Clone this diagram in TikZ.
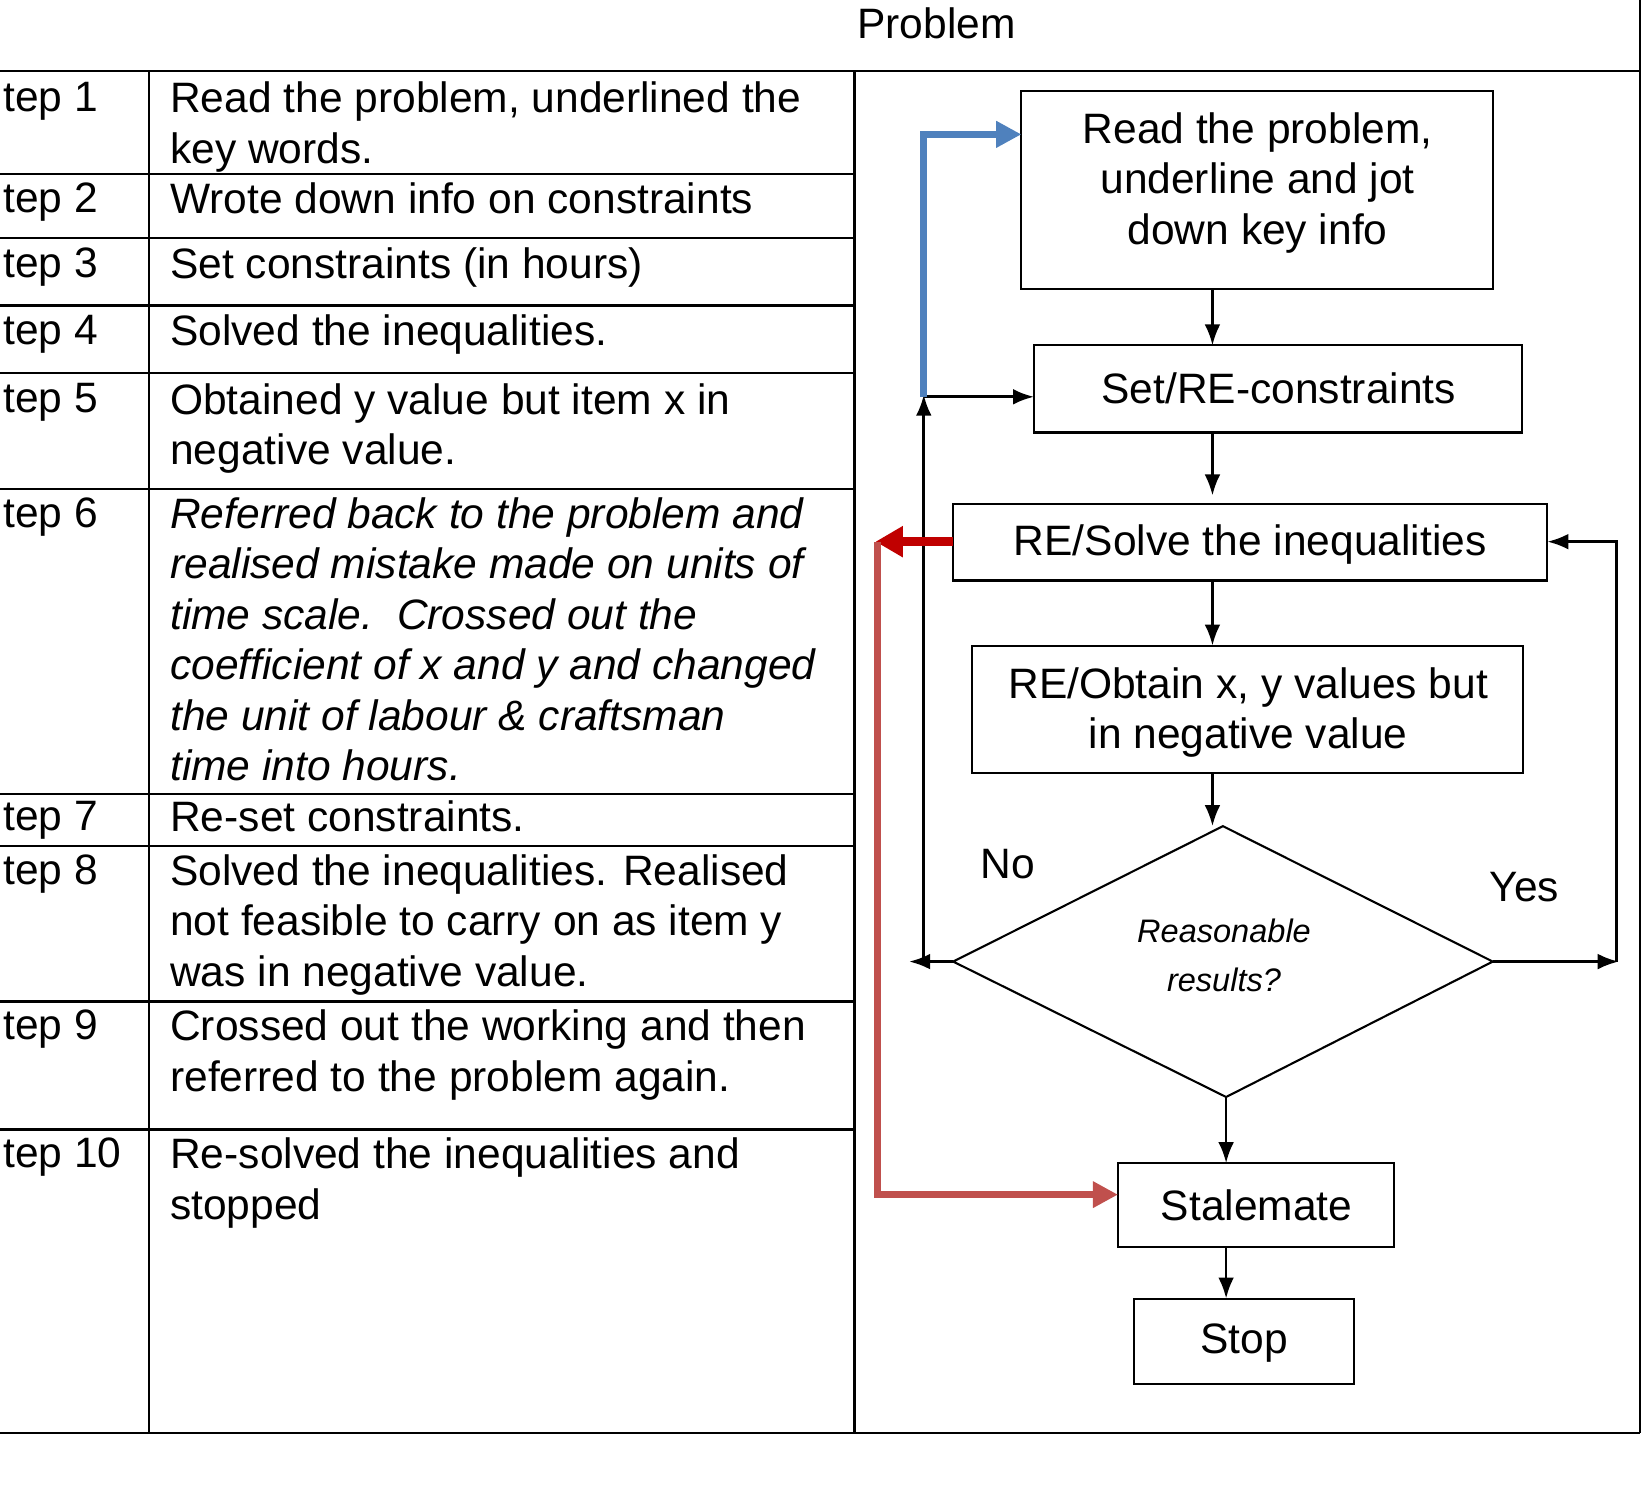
\documentclass[tikz,border=0pt]{standalone}
\usepackage{fontspec}
\setmainfont{Liberation Sans}
\usetikzlibrary{arrows.meta}
\begin{document}
\begin{tikzpicture}[x=1pt,y=-1pt,
  every node/.style={font=\fontsize{40.5}{48}\selectfont, inner sep=0pt},
  cell/.style={anchor=north west, align=left},
  box/.style={draw, line width=2pt},
  ar/.style={-{Latex[length=20pt,width=15pt]}, line width=2.6pt},
  tl/.style={line width=2pt}]
\useasboundingbox (0,0) rectangle (1568,1421);
% table
\draw[tl] (0,68) -- (1562,68);
\draw[tl] (1562,0) -- (1562,1365);
\draw[tl] (0,1365) -- (1562,1365);
\draw[tl] (142,68) -- (142,1365);
\draw[tl] (814,68) -- (814,1365);
\foreach \y in {166,227,291,355,466,756,806,954,1076} \draw[tl] (0,\y) -- (814,\y);
\node (prob) at (892,22) {Problem};
\foreach \t/\y in {1/78,2/174,3/236,4/300,5/365,6/474,7/763,8/814,9/962,10/1084}
  \node[cell] (s\t) at (3,\y) {tep \t};
\node[cell] (r1) at (162,78) {Read the problem, underlined the\\key words.};
\node[cell] (r2) at (162,174) {Wrote down info on constraints};
\node[cell] (r3) at (162,236) {Set constraints (in hours)};
\node[cell] (r4) at (162,300) {Solved the inequalities.};
\node[cell] (r5) at (162,365) {Obtained y value but item x in\\negative value.};
\node[cell,font=\fontsize{40.5}{48}\selectfont\itshape] (r6) at (162,474) {Referred back to the problem and\\realised mistake made on units of\\time scale.\ \ Crossed out the\\coefficient of x and y and changed\\the unit of labour \& craftsman\\time into hours.};
\node[cell] (r7) at (162,763) {Re-set constraints.};
\node[cell] (r8) at (162,814) {Solved the inequalities. Realised\\not feasible to carry on as item y\\was in negative value.};
\node[cell] (r9) at (162,962) {Crossed out the working and then\\referred to the problem again.};
\node[cell] (r10) at (162,1084) {Re-solved the inequalities and\\stopped};
% flowchart
\draw[box] (973,87) rectangle (1422,275);
\node[align=center] (b1) at (1198,174) {Read the problem,\\underline and jot\\down key info};
\draw[box] (985,329) rectangle (1450,412);
\node (b2) at (1218,370) {Set/RE-constraints};
\draw[box] (908,480) rectangle (1474,553);
\node (b3) at (1191,519) {RE/Solve the inequalities};
\draw[box] (926,615) rectangle (1451,736);
\node[align=center] (b4) at (1189,679) {RE/Obtain x, y values but\\in negative value};
\draw[box] (1165,787) -- (1422,916) -- (1168,1045) -- (908,916) -- cycle;
\node[align=center,font=\fontsize{31}{46}\selectfont\itshape] (d) at (1166,910) {Reasonable\\results?};
\draw[box] (1065,1108) rectangle (1328,1188);
\node (st) at (1197,1148) {Stalemate};
\draw[box] (1080,1237) rectangle (1290,1318);
\node (sp) at (1185,1279) {Stop};
\node (no) at (960,823) {No};
\node (yes) at (1452,845) {Yes};
\coordinate (dl) at (908,916); \coordinate (dr) at (1422,916);
\draw[ar] (1155,275) -- (1155,329);
\draw[ar] (1155,412) -- (1155,472);
\draw[ar] (1155,553) -- (1155,615);
\draw[ar] (1155,736) -- (1155,787);
\draw[ar] (1168,1045) -- (1168,1108);
\draw[ar] (1168,1188) -- (1168,1237);
\draw[ar] (dl) -- (866,916);
\draw[ar] (880,916) -- (880,376);
\draw[ar] (880,378) -- (985,378);
\draw[ar] (dr) -- (1542,916);
\draw[ar] (1540,916) -- (1540,516) -- (1474,516);
\draw[-{Triangle[length=24pt,width=24pt]}, line width=7pt, color={rgb,255:red,79;green,129;blue,189}] (880,378) -- (880,128) -- (973,128);
\draw[-{Triangle[length=26pt,width=28pt]}, line width=9pt, color={rgb,255:red,192;green,0;blue,0}] (908,516) -- (834,516);
\draw[-{Triangle[length=24pt,width=24pt]}, line width=7pt, color={rgb,255:red,192;green,80;blue,77}] (836,516) -- (836,1138) -- (1065,1138);
\end{tikzpicture}
\end{document}
